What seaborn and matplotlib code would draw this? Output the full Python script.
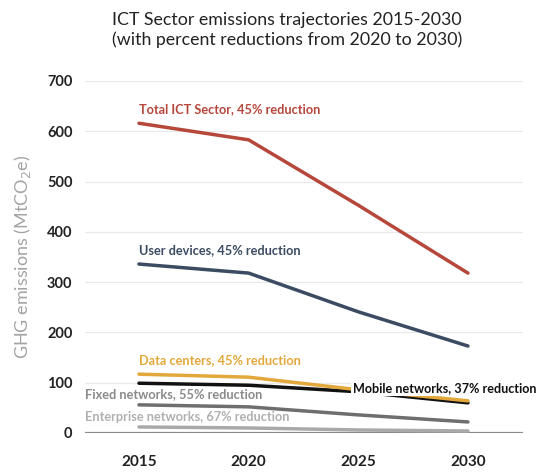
import pandas as pd
import matplotlib
matplotlib.use("Agg")
import matplotlib.pyplot as plt
import seaborn as sns

years = [2015, 2020, 2025, 2030]
total_ict = [616, 583, 453, 318]
user_devices = [336, 318, 241, 173]
data_centers = [117, 111, 86, 64]
mobile_networks = [99, 95, 82, 60]
fixed_networks = [56, 52, 36, 22]
enterprise_networks = [12, 10, 6, 4]

series = {
    'Enterprise networks': enterprise_networks,
    'Fixed networks': fixed_networks,
    'Mobile networks': mobile_networks,
    'Data centers': data_centers,
    'User devices': user_devices,
    'Total ICT Sector': total_ict,
}
colors = {
    'Total ICT Sector': '#b5473b',
    'User devices': '#3b4b61',
    'Data centers': '#e2a83b',
    'Mobile networks': '#111111',
    'Fixed networks': '#6e6e6e',
    'Enterprise networks': '#a9a9a9',
}

rows = []
for name, vals in series.items():
    for y, v in zip(years, vals):
        rows.append({'year': y, 'value': v, 'segment': name})
df = pd.DataFrame(rows)

sns.set_theme(style='white')
plt.rcParams['font.family'] = ['Lato', 'DejaVu Sans']

fig = plt.figure(figsize=(5.41, 4.72), dpi=100)
ax = fig.add_axes([85 / 541, 1 - 433 / 472, (523 - 85) / 541, (433 - 81) / 472])

sns.lineplot(data=df, x='year', y='value', hue='segment', palette=colors,
             hue_order=list(series.keys()), linewidth=2.5, legend=False,
             ax=ax, clip_on=False, zorder=3)

ax.set_xlim(2012.54, 2032.51)
ax.set_ylim(0, 700)
ax.set_yticks(range(0, 701, 100))
ax.set_xticks(years)
ax.grid(axis='y', color='#e9e9e9', linewidth=0.9)
ax.axhline(0, color='#8a8a8a', linewidth=1.6, zorder=2)
for s in ax.spines.values():
    s.set_visible(False)
ax.tick_params(axis='y', length=0, pad=9, labelsize=10.5, labelcolor='#222222')
ax.tick_params(axis='x', length=0, pad=16, labelsize=11, labelcolor='#222222')
for lab in ax.get_xticklabels() + ax.get_yticklabels():
    lab.set_fontweight('bold')
ax.set_xlabel('')
ax.set_ylabel('GHG emissions (MtCO$_2$e)', color='#a3a3a3', fontsize=13,
              labelpad=10)

lab_kw = dict(fontsize=9.2, fontweight='bold', va='center', ha='left')
ax.text(2015, 645, 'Total ICT Sector, 45% reduction', color=colors['Total ICT Sector'], **lab_kw)
ax.text(2015, 363, 'User devices, 45% reduction', color=colors['User devices'], **lab_kw)
ax.text(2015, 145, 'Data centers, 45% reduction', color=colors['Data centers'], **lab_kw)
ax.text(2012.54, 77, 'Fixed networks, 55% reduction', color='#8a8a8a', **lab_kw)
ax.text(2012.54, 32, 'Enterprise networks, 67% reduction', color='#b0b0b0', **lab_kw)
mob_kw = dict(lab_kw, fontsize=9.1)
ax.text(2024.75, 89, 'Mobile networks, 37% reduction', color='#111111', zorder=5,
        bbox=dict(facecolor='white', edgecolor='none', pad=1.5), clip_on=False, **mob_kw)

fig.text(287 / 541, 1 - 30 / 472,
         'ICT Sector emissions trajectories 2015-2030\n(with percent reductions from 2020 to 2030)',
         ha='center', va='center', fontsize=12.8, color='#222222', linespacing=1.3)

fig.savefig('out.png', dpi=100)
